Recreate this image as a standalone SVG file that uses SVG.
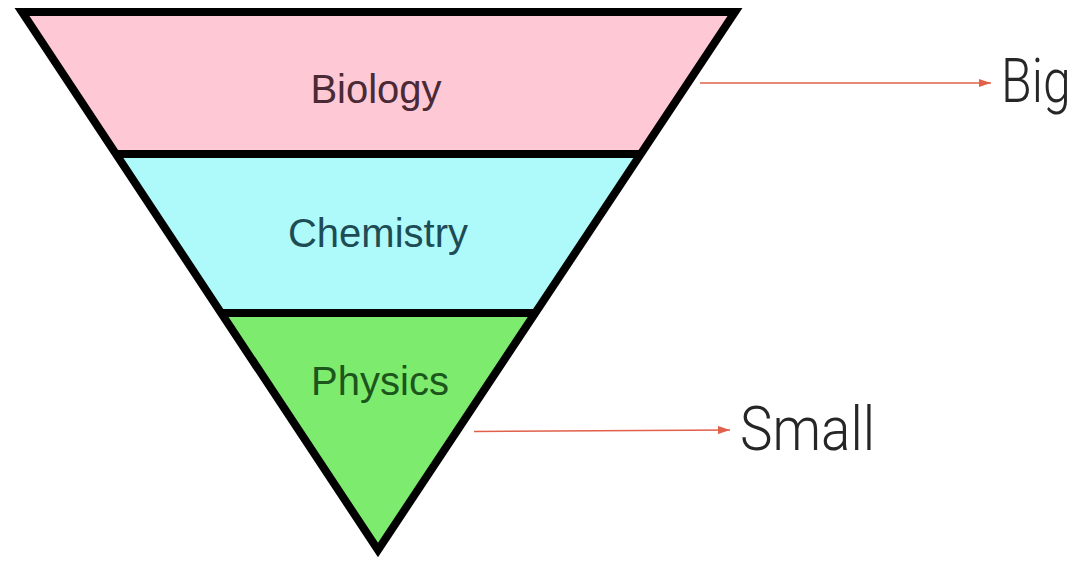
<svg xmlns="http://www.w3.org/2000/svg" width="1081" height="562" viewBox="0 0 1081 562">
<style>
.layer{stroke:none}
.edge{fill:none;stroke:#000;stroke-width:8}
.lbl{font-family:"Liberation Sans",Arial,sans-serif;font-size:40px;text-anchor:middle}
.side{font-family:Roboto,"Liberation Sans",sans-serif;font-weight:300;font-size:61px;fill:#262626}
.arrow{stroke:#E0604A;stroke-width:1.6;fill:none}
</style>
<defs>
<marker id="ah" viewBox="0 0 12 8" refX="12" refY="4" markerWidth="12" markerHeight="8" markerUnits="userSpaceOnUse" orient="auto">
<path d="M0,0 L12,4 L0,8 Z" fill="#E0604A"/>
</marker>
</defs>
<rect width="1081" height="562" fill="#fff"/>
<g id="biology">
<polygon class="layer" points="22,12 735,12 641,154 116,154" fill="#FFC8D5"/>
<text class="lbl" x="376" y="103" fill="#4A2A35">Biology</text>
</g>
<g id="chemistry">
<polygon class="layer" points="116,154 641,154 535,313 221,313" fill="#AEFAFB"/>
<text class="lbl" x="378" y="247" fill="#1E4C55">Chemistry</text>
</g>
<g id="physics">
<polygon class="layer" points="221,313 535,313 378,550" fill="#7DEB6D"/>
<text class="lbl" x="380" y="395" fill="#1C561C">Physics</text>
</g>
<g id="outline">
<line class="edge" x1="116" y1="154" x2="641" y2="154"/>
<line class="edge" x1="221" y1="313" x2="535" y2="313"/>
<polygon class="edge" points="22,12 735,12 378,550"/>
</g>
<g id="connectors">
<line class="arrow" x1="700" y1="83" x2="991" y2="83" marker-end="url(#ah)"/>
<line class="arrow" x1="474" y1="431.5" x2="730" y2="430" marker-end="url(#ah)"/>
</g>
<g id="big">
<text class="side" style="font-size:50px" transform="translate(1001,102) scale(1,1.22)" x="0" y="0">Big</text>
</g>
<g id="small">
<text class="side" x="740" y="450" textLength="135" lengthAdjust="spacingAndGlyphs">Small</text>
</g>
</svg>
